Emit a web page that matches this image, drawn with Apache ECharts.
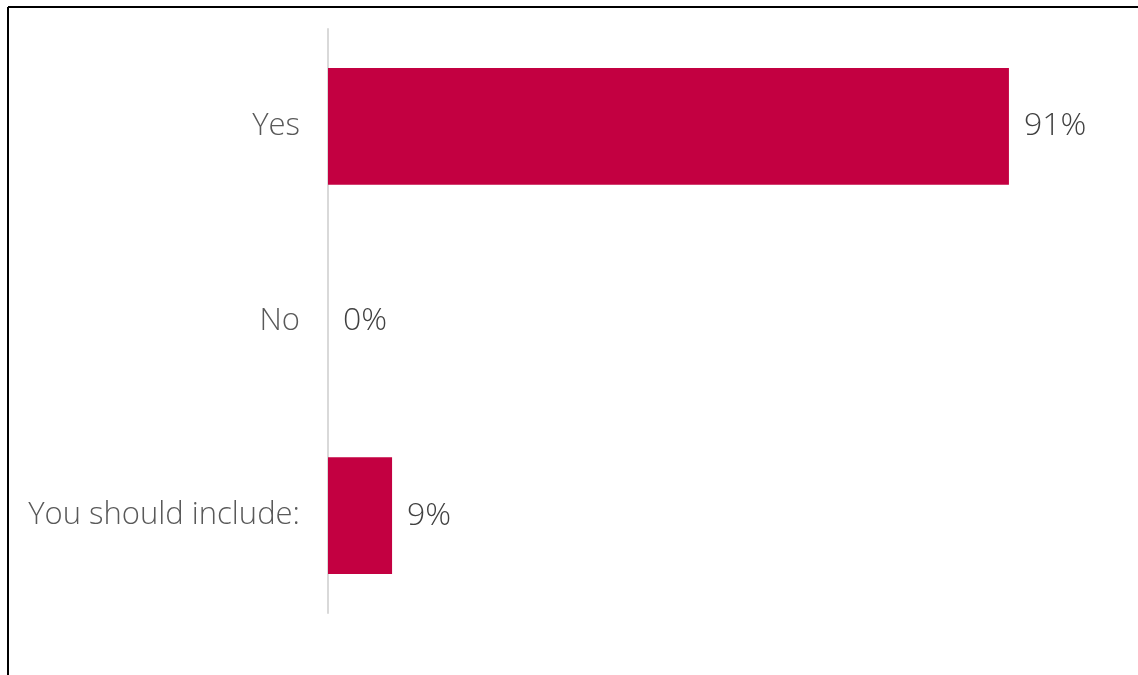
<!DOCTYPE html>
<html>
<head>
<meta charset="utf-8">
<script src="https://cdn.jsdelivr.net/npm/echarts@6/dist/echarts.min.js"></script>
<style>
html,body{margin:0;padding:0;background:#fff;}
#chart{width:1138px;height:675px;}
</style>
</head>
<body>
<div id="chart"></div>
<script>
const categories = ['Yes', 'No', 'You should include:'];
const values = [91.4, 0, 8.6];

const chart = echarts.init(document.getElementById('chart'), null, {renderer: 'canvas'});
chart.setOption({
  animation: false,
  graphic: [
    {type: 'line', shape: {x1: 8, y1: 7, x2: 1138, y2: 7}, style: {stroke: '#000', lineWidth: 2}},
    {type: 'line', shape: {x1: 8, y1: 7, x2: 8, y2: 675}, style: {stroke: '#000', lineWidth: 2}}
  ],
  grid: {left: 328, right: 65, top: 29, bottom: 62, containLabel: false},
  xAxis: {
    type: 'value', min: 0, max: 100, show: false
  },
  yAxis: {
    type: 'category',
    data: categories,
    inverse: true,
    axisLine: {show: true, lineStyle: {color: '#d9d9d9', width: 2}},
    axisTick: {show: false},
    axisLabel: {
      margin: 28, fontSize: 31, color: '#595959',
      fontFamily: 'Open Sans', fontWeight: 300
    },
    splitLine: {show: false}
  },
  series: [{
    type: 'bar',
    data: values,
    barWidth: '60%',
    itemStyle: {color: '#c30041'},
    label: {
      show: true, position: 'right', distance: 15,
      fontSize: 32, color: '#404040', fontFamily: 'Open Sans', fontWeight: 300,
      formatter: p => Math.round(p.value) + '%'
    }
  }]
});
</script>
</body>
</html>
